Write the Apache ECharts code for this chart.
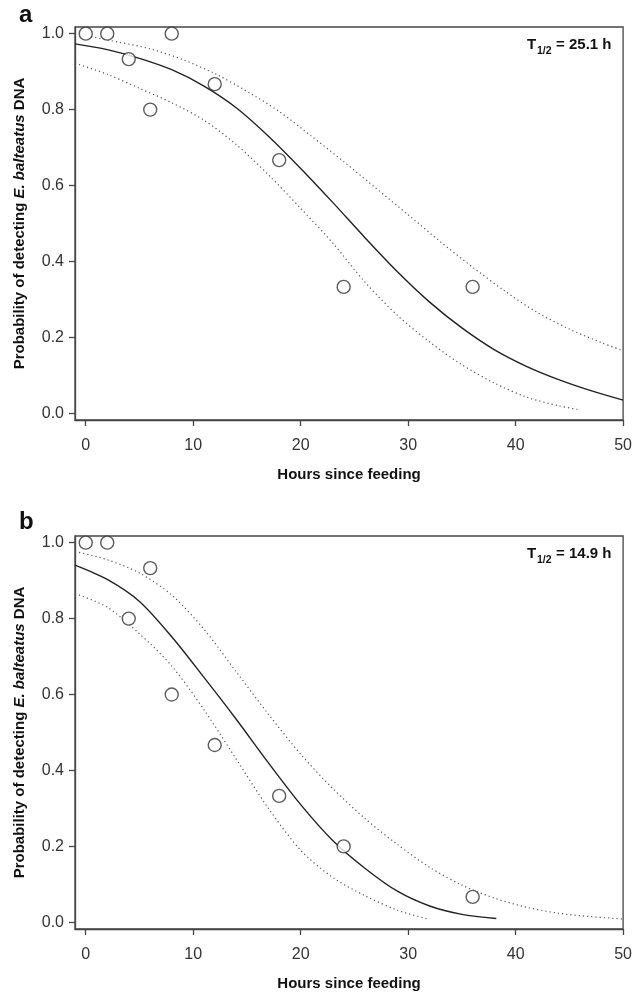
<!DOCTYPE html>
<html><head><meta charset="utf-8">
<script src="https://cdn.jsdelivr.net/npm/echarts@6/dist/echarts.min.js"></script>
<style>html,body{margin:0;padding:0;background:#fff}#c{width:635px;height:994px}</style>
</head><body><div id="c"></div>
<script>
// Panel a: observed detection proportions
const hoursA = [0, 2, 4, 6, 8, 12, 18, 24, 36];
const detectA = [1.0, 1.0, 0.933, 0.8, 1.0, 0.867, 0.667, 0.333, 0.333];
// Panel a: fitted curve and confidence bands
const fitXA = [-1, 2, 5, 8, 11, 14, 17, 20, 23, 26, 29, 32, 35, 38, 41, 44, 47, 50];
const fitA = [0.973, 0.958, 0.935, 0.905, 0.862, 0.805, 0.73, 0.645, 0.555, 0.462, 0.373, 0.293, 0.225, 0.168, 0.124, 0.089, 0.06, 0.035];
const upXA = [0.5, 3, 6, 9, 12, 15, 18, 21, 24, 27, 30, 33, 36, 39, 42, 45, 48, 50];
const upA = [0.992, 0.978, 0.96, 0.932, 0.895, 0.848, 0.795, 0.73, 0.663, 0.593, 0.523, 0.452, 0.385, 0.322, 0.266, 0.222, 0.186, 0.165];
const loXA = [-1, 2, 5, 8, 11, 14, 17, 20, 23, 26, 29, 32, 35, 38, 41, 44, 46];
const loA = [0.922, 0.893, 0.856, 0.818, 0.772, 0.708, 0.628, 0.54, 0.448, 0.345, 0.258, 0.188, 0.128, 0.08, 0.043, 0.02, 0.009];

// Panel b
const hoursB = [0, 2, 4, 6, 8, 12, 18, 24, 36];
const detectB = [1.0, 1.0, 0.8, 0.933, 0.6, 0.467, 0.333, 0.2, 0.067];
const fitXB = [-1, 2, 5, 8, 11, 14, 17, 20, 23, 26, 29, 32, 35, 38.2];
const fitB = [0.941, 0.903, 0.845, 0.752, 0.645, 0.535, 0.42, 0.31, 0.215, 0.142, 0.082, 0.043, 0.021, 0.01];
const upXB = [-1, 2, 5, 8, 11, 14, 17, 20, 23, 26, 29, 32, 35, 38, 41, 44, 47, 50];
const upB = [0.977, 0.955, 0.92, 0.862, 0.772, 0.66, 0.548, 0.443, 0.352, 0.273, 0.205, 0.145, 0.098, 0.064, 0.04, 0.024, 0.015, 0.009];
const loXB = [-1, 2, 5, 8, 11, 14, 17, 20, 23, 26, 29, 31.8];
const loB = [0.866, 0.83, 0.76, 0.675, 0.56, 0.43, 0.30, 0.19, 0.118, 0.07, 0.032, 0.009];

const xTicks = [0, 10, 20, 30, 40, 50];
const yTicks = [0, 0.2, 0.4, 0.6, 0.8, 1.0];
const xTitle = 'Hours since feeding';
const panelLabels = ['a', 'b'];
const halfLives = ['25.1', '14.9'];

const FONT = '"Liberation Sans", Arial, sans-serif';
const AX = '#444';
const zip = (xs, ys) => xs.map((x, i) => [x, ys[i]]);

const panels = [
  {top: 27, pts: zip(hoursA, detectA), fit: zip(fitXA, fitA), up: zip(upXA, upA), lo: zip(loXA, loA)},
  {top: 536, pts: zip(hoursB, detectB), fit: zip(fitXB, fitB), up: zip(upXB, upB), lo: zip(loXB, loB)}
];

const grid = [], xAxis = [], yAxis = [], series = [], graphic = [];
panels.forEach((p, i) => {
  grid.push({left: 75, top: p.top, width: 550, height: 393, show: true, borderColor: AX, borderWidth: 1.3, backgroundColor: 'transparent'});
  xAxis.push({
    type: 'value', gridIndex: i, min: -1, max: 50,
    name: xTitle, nameLocation: 'middle', nameGap: 47,
    nameTextStyle: {fontFamily: FONT, fontWeight: 'bold', fontSize: 15, color: '#111'},
    axisLine: {show: true, onZero: false, lineStyle: {color: AX, width: 1.3}},
    axisTick: {show: true, length: 6, customValues: xTicks, lineStyle: {color: AX, width: 1.3}},
    axisLabel: {customValues: xTicks, margin: 18, fontFamily: FONT, fontSize: 16, color: '#333'},
    splitLine: {show: false}
  });
  yAxis.push({
    type: 'value', gridIndex: i, min: -0.0175, max: 1.0175,
    name: '{n|Probability of detecting }{i|E. balteatus}{n| DNA}',
    nameLocation: 'middle', nameRotate: 90, nameGap: 48,
    nameTextStyle: {rich: {
      n: {fontFamily: FONT, fontWeight: 'bold', fontSize: 15, color: '#111'},
      i: {fontFamily: FONT, fontWeight: 'bold', fontStyle: 'italic', fontSize: 15, color: '#111'}
    }},
    axisLine: {show: true, onZero: false, lineStyle: {color: AX, width: 1.3}},
    axisTick: {show: true, length: 6, customValues: yTicks, lineStyle: {color: AX, width: 1.3}},
    axisLabel: {customValues: yTicks, margin: 11, fontFamily: FONT, fontSize: 16, color: '#333',
      formatter: v => Number(v).toFixed(1)},
    splitLine: {show: false}
  });
  const dotted = {color: '#555', width: 1.2, type: [1.2, 3]};
  const common = {type: 'line', xAxisIndex: i, yAxisIndex: i, smooth: 0.3, showSymbol: false, symbol: 'none'};
  series.push(
    Object.assign({}, common, {data: p.up, lineStyle: dotted, z: 2}),
    Object.assign({}, common, {data: p.lo, lineStyle: dotted, z: 2}),
    Object.assign({}, common, {data: p.fit, lineStyle: {color: '#222', width: 1.4}, z: 3}),
    {type: 'scatter', xAxisIndex: i, yAxisIndex: i, data: p.pts, symbol: 'circle', symbolSize: 13, clip: false,
      itemStyle: {color: '#fff', borderColor: '#333', borderWidth: 1.4}, z: 5}
  );
  const dy = p.top - 27;
  graphic.push(
    {type: 'text', left: 19, top: (i === 0 ? 3 : 1) + dy, style: {text: panelLabels[i], fontFamily: FONT, fontWeight: 'bold', fontSize: 24, fill: '#111'}},
    {type: 'text', x: 527, y: 45 + dy, style: {text: 'T', fontFamily: FONT, fontWeight: 'bold', fontSize: 15, fill: '#111', align: 'left', verticalAlign: 'middle'}},
    {type: 'text', x: 537, y: 51 + dy, style: {text: '1/2', fontFamily: FONT, fontWeight: 'bold', fontSize: 10.5, fill: '#111', align: 'left', verticalAlign: 'middle'}},
    {type: 'text', x: 611.5, y: 45 + dy, style: {text: '= ' + halfLives[i] + ' h', fontFamily: FONT, fontWeight: 'bold', fontSize: 15, fill: '#111', align: 'right', verticalAlign: 'middle'}}
  );
});

const chart = echarts.init(document.getElementById('c'), null, {renderer: 'canvas'});
chart.setOption({backgroundColor: '#fff', animation: false, grid, xAxis, yAxis, series, graphic});
</script>
</body></html>
